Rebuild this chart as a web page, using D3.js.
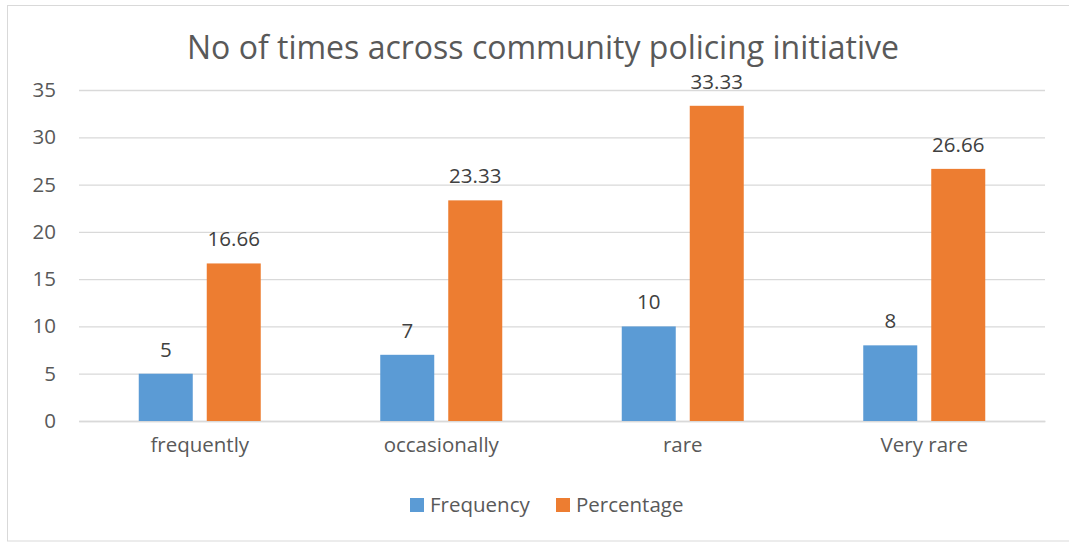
<!DOCTYPE html>
<script src="https://d3js.org/d3.v7.min.js"></script>
<style>
    body { margin: 0; background: #fff; }
    text { font-family: "Open Sans", sans-serif; }
</style>
<body>
<svg width="1069" height="543" class="chart"></svg>
</body>
<script>
    const categories = ['frequently', 'occasionally', 'rare', 'Very rare'];
    const seriesNames = ['Frequency', 'Percentage'];
    const frequency = [5, 7, 10, 8];
    const percentage = [16.66, 23.33, 33.33, 26.66];
    const yTicks = [0, 5, 10, 15, 20, 25, 30, 35];
    const colors = ['#5B9BD5', '#ED7D31'];

    const data = categories.map((c, i) => ({ category: c, values: [frequency[i], percentage[i]] }));

    const margin = { top: 90, right: 24, bottom: 122, left: 79 },
        width = 1069 - margin.left - margin.right,
        height = 543 - margin.top - margin.bottom;

    const labelSize = '20.5px';

    const svg = d3.select('.chart');

    svg.append('rect')
        .attr('x', 7.5).attr('y', 5.5)
        .attr('width', 1070).attr('height', 535.5)
        .attr('fill', 'none').attr('stroke', '#D9D9D9');

    svg.append('text')
        .attr('x', 543).attr('y', 59)
        .attr('text-anchor', 'middle')
        .attr('fill', '#595959')
        .style('font-size', '32px')
        .text('No of times across community policing initiative');

    const g = svg.append('g')
        .attr('transform', 'translate(' + margin.left + ',' + margin.top + ')');

    const groupW = 122;
    const x = d3.scaleBand().domain(categories).range([0, width]);
    const x1 = d3.scaleBand().domain(seriesNames).range([0, groupW]).paddingInner(14 / 68);
    const y = d3.scaleLinear().domain([0, 35]).range([height, 0]);

    // gridlines + y labels
    g.append('g')
        .call(d3.axisLeft(y).tickValues(yTicks).tickSize(-width).tickPadding(23))
        .call(a => a.select('.domain').remove())
        .call(a => a.selectAll('line').attr('stroke', '#D9D9D9').attr('stroke-width', 1.3))
        .call(a => a.selectAll('text').attr('fill', '#595959').style('font-size', labelSize).style('font-family', '"Open Sans", sans-serif'));

    g.append('g')
        .attr('transform', 'translate(0,' + height + ')')
        .call(d3.axisBottom(x).tickSize(0).tickPadding(16))
        .call(a => a.select('.domain').attr('stroke', '#D9D9D9').attr('stroke-width', 1.3))
        .call(a => a.selectAll('text').attr('fill', '#595959').style('font-size', labelSize).style('font-family', '"Open Sans", sans-serif'));

    const groups = g.selectAll('.grp')
        .data(data)
        .enter()
        .append('g')
        .attr('transform', d => 'translate(' + (x(d.category) + (x.bandwidth() - groupW) / 2) + ',0)');

    const bars = groups.selectAll('.bar')
        .data(d => d.values.map((v, i) => ({ key: seriesNames[i], value: v, i })))
        .enter();

    bars.append('rect')
        .attr('x', d => x1(d.key))
        .attr('y', d => y(d.value))
        .attr('width', x1.bandwidth())
        .attr('height', d => height - y(d.value))
        .attr('fill', d => colors[d.i]);

    bars.append('text')
        .attr('x', d => x1(d.key) + x1.bandwidth() / 2)
        .attr('y', d => y(d.value) - 17)
        .attr('text-anchor', 'middle')
        .attr('fill', '#404040')
        .style('font-size', labelSize)
        .text(d => d.value);

    const legend = svg.append('g').attr('transform', 'translate(410,498)');
    const item = legend.selectAll('.item')
        .data(seriesNames)
        .enter()
        .append('g')
        .attr('transform', (d, i) => 'translate(' + (i * 146) + ',0)');
    item.append('rect').attr('width', 14).attr('height', 14).attr('fill', (d, i) => colors[i]);
    item.append('text')
        .attr('x', 20).attr('y', 14)
        .attr('fill', '#595959')
        .style('font-size', labelSize)
        .text(d => d);
</script>
